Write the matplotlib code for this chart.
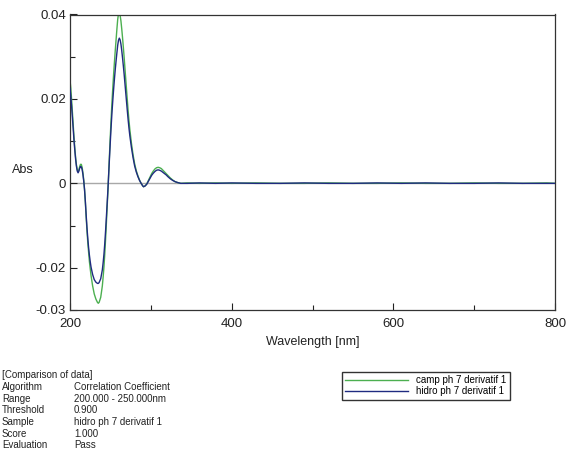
import matplotlib
matplotlib.use("Agg")
import matplotlib.pyplot as plt
from matplotlib.ticker import FixedLocator

plt.rcParams['font.family'] = ['Liberation Sans', 'DejaVu Sans']

# wavelength grid (nm) and the two derivative spectra
wl = [200, 201, 202, 203, 204, 205, 206, 207, 208, 209, 210, 211, 212, 213, 214,
      215, 216, 217, 218, 219, 220, 221, 222, 223, 224, 225, 226, 228, 230, 232,
      234, 235, 236, 238, 240, 241, 242, 243, 244, 245, 246, 247, 248, 249, 250,
      251, 252, 253, 254, 255, 256, 257, 258, 259, 260, 261, 262, 263, 264, 265,
      266, 267, 268, 269, 270, 271, 272, 273, 274, 276, 278, 280, 282, 284, 286,
      288, 290, 291, 293, 295, 297, 299, 301, 303, 305, 307, 309, 311, 313, 315,
      317, 319, 321, 324, 327, 330, 333, 337, 345, 360, 380, 400, 430, 460, 490,
      520, 550, 580, 610, 640, 670, 700, 730, 760, 790, 800]

camp = [0.0245, 0.0225, 0.0198, 0.0168, 0.0138, 0.0108, 0.0082, 0.0060, 0.0043, 0.0032,
        0.0028, 0.0032, 0.0040, 0.0045, 0.0045, 0.0038, 0.0025, 0.0008, -0.0015, -0.0045,
        -0.0080, -0.0112, -0.0140, -0.0163, -0.0185, -0.0202, -0.0218, -0.0243, -0.0262, -0.0274,
        -0.0282, -0.0284, -0.0282, -0.0270, -0.0243, -0.0222, -0.0198, -0.0168, -0.0133, -0.0095,
        -0.0055, -0.0015, 0.0030, 0.0075, 0.0118, 0.0158, 0.0195, 0.0228, 0.0260, 0.0288,
        0.0315, 0.0340, 0.0365, 0.0388, 0.0402, 0.0405, 0.0398, 0.0385, 0.0366, 0.0345,
        0.0322, 0.0298, 0.0272, 0.0246, 0.0220, 0.0195, 0.0170, 0.0148, 0.0128, 0.0095,
        0.0068, 0.0046, 0.0030, 0.0018, 0.0008, 0.0000, -0.0006, -0.0008, -0.0006, -0.0001,
        0.0007, 0.0015, 0.0023, 0.0029, 0.0034, 0.0037, 0.0038, 0.0037, 0.0035, 0.0031,
        0.0027, 0.0023, 0.0019, 0.0013, 0.0008, 0.0004, 0.0002, 0.0000, 0.0001, 0.0000,
        0.0001, 0.0000, 0.0001, 0.0000, 0.0000, 0.0001, 0.0000, 0.0000, 0.0001, 0.0000,
        0.0000, 0.0001, 0.0000, 0.0000, 0.0001, 0.0000]

hidro = [0.0225, 0.0205, 0.0182, 0.0155, 0.0128, 0.0100, 0.0077, 0.0056, 0.0040, 0.0029,
         0.0025, 0.0029, 0.0036, 0.0040, 0.0039, 0.0033, 0.0021, 0.0005, -0.0015, -0.0043,
         -0.0075, -0.0105, -0.0130, -0.0152, -0.0170, -0.0185, -0.0198, -0.0216, -0.0228, -0.0234,
         -0.0237, -0.0237, -0.0235, -0.0226, -0.0205, -0.0188, -0.0168, -0.0143, -0.0113, -0.0080,
         -0.0046, -0.0012, 0.0027, 0.0066, 0.0103, 0.0138, 0.0170, 0.0198, 0.0224, 0.0248,
         0.0270, 0.0290, 0.0309, 0.0327, 0.0339, 0.0344, 0.0340, 0.0330, 0.0315, 0.0297,
         0.0278, 0.0258, 0.0236, 0.0214, 0.0192, 0.0170, 0.0149, 0.0130, 0.0113, 0.0085,
         0.0061, 0.0041, 0.0027, 0.0016, 0.0007, 0.0000, -0.0006, -0.0008, -0.0006, -0.0002,
         0.0005, 0.0012, 0.0019, 0.0024, 0.0028, 0.0031, 0.0032, 0.0031, 0.0029, 0.0026,
         0.0023, 0.0020, 0.0016, 0.0011, 0.0007, 0.0004, 0.0002, 0.0000, 0.0000, 0.0001,
         0.0000, 0.0001, 0.0000, 0.0000, 0.0001, 0.0000, 0.0000, 0.0001, 0.0000, 0.0001,
         0.0000, 0.0000, 0.0001, 0.0000, 0.0000, 0.0000]

labels = ['camp ph 7 derivatif 1', 'hidro ph 7 derivatif 1']
info_keys = ['Algorithm', 'Range', 'Threshold', 'Sample', 'Score', 'Evaluation']
info_vals = ['Correlation Coefficient', '200.000 - 250.000nm', '0.900',
             'hidro ph 7 derivatif 1', '1.000', 'Pass']

W, H = 566, 449
fig = plt.figure(figsize=(W / 100, H / 100), dpi=100)
ax = fig.add_axes([70 / W, 1 - 310 / H, 485 / W, 295.5 / H])

ax.axhline(0, color='#a8a8a8', lw=1.0, zorder=1)
ax.plot(wl, camp, color='#4caf50', lw=1.0, label=labels[0], zorder=2)
ax.plot(wl, hidro, color='#1f2b80', lw=1.0, label=labels[1], zorder=3)

ax.set_xlim(200, 800)
ax.set_ylim(-0.03, 0.04)
ax.xaxis.set_major_locator(FixedLocator([200, 400, 600, 800]))
ax.xaxis.set_minor_locator(FixedLocator([300, 500, 700]))
ax.yaxis.set_major_locator(FixedLocator([-0.03, -0.02, 0, 0.02, 0.04]))
ax.yaxis.set_minor_locator(FixedLocator([-0.01, 0.01, 0.03]))
ax.set_yticklabels(['-0.03', '-0.02', '0', '0.02', '0.04'])
ax.tick_params(which='both', direction='in', labelsize=9.5, colors='#222222')
ax.tick_params(which='major', length=5, width=0.8)
ax.tick_params(which='minor', length=3.5, width=0.8)
ax.tick_params(axis='x', which='both', pad=6)
ax.tick_params(axis='y', which='both', pad=3)
for s in ax.spines.values():
    s.set_color('#333333')
    s.set_linewidth(0.9)

ax.set_xlabel('Wavelength [nm]', fontsize=9, color='#222222', labelpad=4)
fig.text(12 / W, 1 - 170 / H, 'Abs', fontsize=9, color='#222222', va='center', ha='left')

fig.legend(loc='upper left', bbox_to_anchor=(342 / W, 1 - 372 / H), fontsize=7,
           frameon=True, fancybox=False, edgecolor='#333333', framealpha=1,
           handlelength=6.4, handletextpad=0.9, labelspacing=0.1,
           borderpad=0.35, borderaxespad=0)

fig.text(2 / W, 1 - 375 / H, '[Comparison of data]', fontsize=7, color='#222222', va='center')
for i, (k, v) in enumerate(zip(info_keys, info_vals)):
    y = 1 - (387 + i * 11.7) / H
    fig.text(2 / W, y, k, fontsize=7, color='#222222', va='center')
    fig.text(74 / W, y, v, fontsize=7, color='#222222', va='center')

fig.savefig('out.png', dpi=100)
